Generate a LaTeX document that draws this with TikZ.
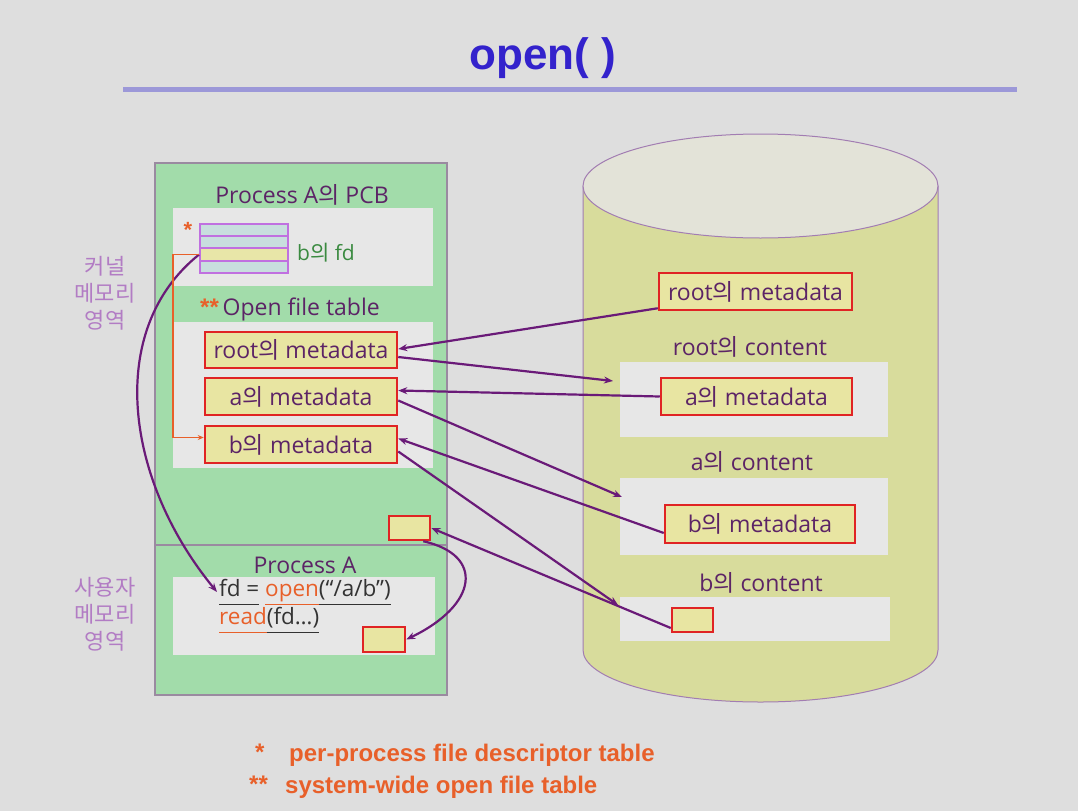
\documentclass[tikz,border=0pt]{standalone}
\usepackage{fontspec}
\usetikzlibrary{arrows.meta}
\setmainfont{Open Sans}
\newfontfamily\kr{Noto Sans CJK KR}
\newfontfamily\lib{Liberation Sans}
\newcommand\ui{{\kr 의}}
\definecolor{bg}{HTML}{DEDEDE}
\definecolor{panel}{HTML}{E7E7E7}
\definecolor{gA}{HTML}{A2DCAA}
\definecolor{gB}{HTML}{D0EAD8}
\definecolor{frame}{HTML}{9A8AA0}
\definecolor{cyA}{HTML}{D8DC9C}
\definecolor{cyB}{HTML}{E8EAC2}
\definecolor{cytop}{HTML}{E3E3D8}
\definecolor{cyline}{HTML}{A27DB2}
\definecolor{boxfill}{HTML}{E8E5A2}
\definecolor{boxred}{HTML}{E02424}
\definecolor{txt}{HTML}{5C2466}
\definecolor{arrc}{HTML}{6A1A78}
\definecolor{orng}{HTML}{E8602A}
\definecolor{ttl}{HTML}{3322CC}
\definecolor{bar}{HTML}{9C98D8}
\definecolor{fdline}{HTML}{C070E0}
\definecolor{fdrow}{HTML}{C8DEDE}
\definecolor{fdsel}{HTML}{E8E6A8}
\definecolor{grn}{HTML}{3A8A40}
\definecolor{klbl}{HTML}{B27CC4}
\definecolor{code}{HTML}{333333}
\tikzset{
  lbl/.style={text=txt, inner sep=0pt, font=\fontsize{23}{27}\selectfont},
  mbox/.style={draw=boxred, line width=2.5pt, fill=boxfill, inner sep=0pt, text=txt, font=\fontsize{23}{27}\selectfont},
  fdcell/.style={draw=fdline, line width=2pt, fill=fdrow, minimum width=88, minimum height=12.25, inner sep=0pt},
  arr/.style={draw=arrc, line width=2.2pt, -{Stealth[length=9pt,width=7pt]}},
  orline/.style={draw=orng, line width=1.3pt, -{Stealth[length=6pt,width=5pt]}},
  side/.style={text=klbl, align=center, inner sep=0pt, font=\kr\fontsize{22}{27}\selectfont},
  legend/.style={text=orng, inner sep=0pt, anchor=west, font=\lib\bfseries\fontsize{24}{28}\selectfont}
}
\begin{document}
\begin{tikzpicture}[x=1pt,y=-1pt]
\useasboundingbox[fill=bg] (0,0) rectangle (1078,811);
% title
\node[text=ttl, font=\lib\bfseries\fontsize{44}{50}\selectfont, inner sep=0pt] (title) at (543,58) {open( )};
\draw[bar, line width=5pt] (123,89) -- (1017,89);

% left memory box
\path[draw=frame, line width=1.3pt, left color=gA, middle color=gB, right color=gA] (155,163) rectangle (447,695);
\draw[frame, line width=1.3pt] (155,545) -- (447,545);
\fill[panel] (173,208) rectangle (433,286);
\fill[panel] (173,322) rectangle (433,468);
\fill[panel] (173,577) rectangle (435,655);

\node[lbl] (pcb) at (302,195) {Process A\ui{} PCB};
\node[text=orng, inner sep=0pt, font=\lib\bfseries\fontsize{22}{26}\selectfont] (star1) at (188,230) {*};
\node[fdcell] (fd1) at (244,230.1) {};
\node[fdcell] (fd2) at (244,242.4) {};
\node[fdcell, fill=fdsel] (fd3) at (244,254.6) {};
\node[fdcell] (fd4) at (244,266.9) {};
\node[text=grn, inner sep=0pt, font=\fontsize{21}{25}\selectfont] (bfd) at (326,253) {b\ui{} fd};
\node[lbl, anchor=west] (oft) at (200,309) {{\color{orng}\lib\bfseries\fontsize{24}{26}\selectfont **}\,Open file table};

\node[mbox, minimum width=192, minimum height=36] (prm) at (301,350) {root\ui{} metadata};
\node[mbox, minimum width=192, minimum height=37] (pam) at (301,396.5) {a\ui{} metadata};
\node[mbox, minimum width=192, minimum height=37] (pbm) at (301,444.5) {b\ui{} metadata};
\node[mbox, minimum width=41, minimum height=24] (ksm) at (409.5,528) {};

\node[lbl] (pa) at (305,565) {Process A};
\node[text=code, inner sep=0pt, anchor=west, font=\fontsize{22.5}{26}\selectfont] (c1) at (219,592) {\underline{fd =\vphantom{p}} \textcolor{orng}{\underline{open}}\underline{(“/a/b”)\vphantom{p}}};
\node[text=code, inner sep=0pt, anchor=west, font=\fontsize{22.5}{26}\selectfont] (c2) at (219,620) {\textcolor{orng}{\underline{read\vphantom{p}}}\underline{(fd…)\vphantom{p}}};
\node[mbox, minimum width=42, minimum height=25] (usm) at (384,639.5) {};

% side labels
\node[side] (kern) at (105,293) {커널\\메모리\\영역};
\node[side] (user) at (105,614) {사용자\\메모리\\영역};

% disk cylinder
\path[draw=cyline, line width=1pt, left color=cyA, middle color=cyB, right color=cyA]
  (583,186) -- (583,650) arc[start angle=180, end angle=360, x radius=177.5pt, y radius=52pt] -- (938,186) -- cycle;
\path[draw=cyline, line width=1pt, fill=cytop] (760.5,186) ellipse [x radius=177.5pt, y radius=52pt];
\fill[panel] (620,362) rectangle (888,437);
\fill[panel] (620,478) rectangle (888,555);
\fill[panel] (620,597) rectangle (890,641);

\node[lbl] (rc) at (750,347) {root\ui{} content};
\node[lbl] (ac) at (752,462) {a\ui{} content};
\node[lbl] (bc) at (761,583) {b\ui{} content};

\node[mbox, minimum width=193, minimum height=37] (drm) at (755.5,291.5) {root\ui{} metadata};
\node[mbox, minimum width=191, minimum height=37] (dam) at (756.5,396.5) {a\ui{} metadata};
\node[mbox, minimum width=190, minimum height=38] (dbm) at (760,524) {b\ui{} metadata};
\node[mbox, minimum width=41, minimum height=24] (dbc) at (692.5,620) {};

% free arrow ends
\coordinate (t1) at (613,381);
\coordinate (t2) at (622,497);
\coordinate (t3) at (618,605);

% connectors
\draw[arr] ([yshift=3pt]drm.south west) -- ([yshift=1pt]prm.east);
\draw[arr] ([yshift=-7pt]prm.east) -- (t1);
\draw[arr] (dam.west) -- ([yshift=6pt]pam.east);
\draw[arr] ([yshift=-4pt]pam.east) -- (t2);
\draw[arr] ([yshift=-9pt]dbm.west) -- ([yshift=6pt]pbm.east);
\draw[arr] ([yshift=-7pt]pbm.east) -- (t3);
\draw[arr] ([yshift=-8pt]dbc.west) -- (ksm.east);
\draw[arr] ([xshift=-8pt]ksm.south east) .. controls (485,555) and (478,605) .. (usm.east);
\draw[arr] (fd3.west) .. controls (105,330) and (125,480) .. ([xshift=-2pt]c1.west);
\draw[orline] (fd3.west) -- ++(-26,0) |- ([yshift=7pt]pbm.west);

% legend
\node[legend] (s1) at (255,752) {*};
\node[legend] (l1) at (289,755) {per-process file descriptor table};
\node[legend] (s2) at (249,784) {**};
\node[legend] (l2) at (285,787) {system-wide open file table};
\end{tikzpicture}
\end{document}
